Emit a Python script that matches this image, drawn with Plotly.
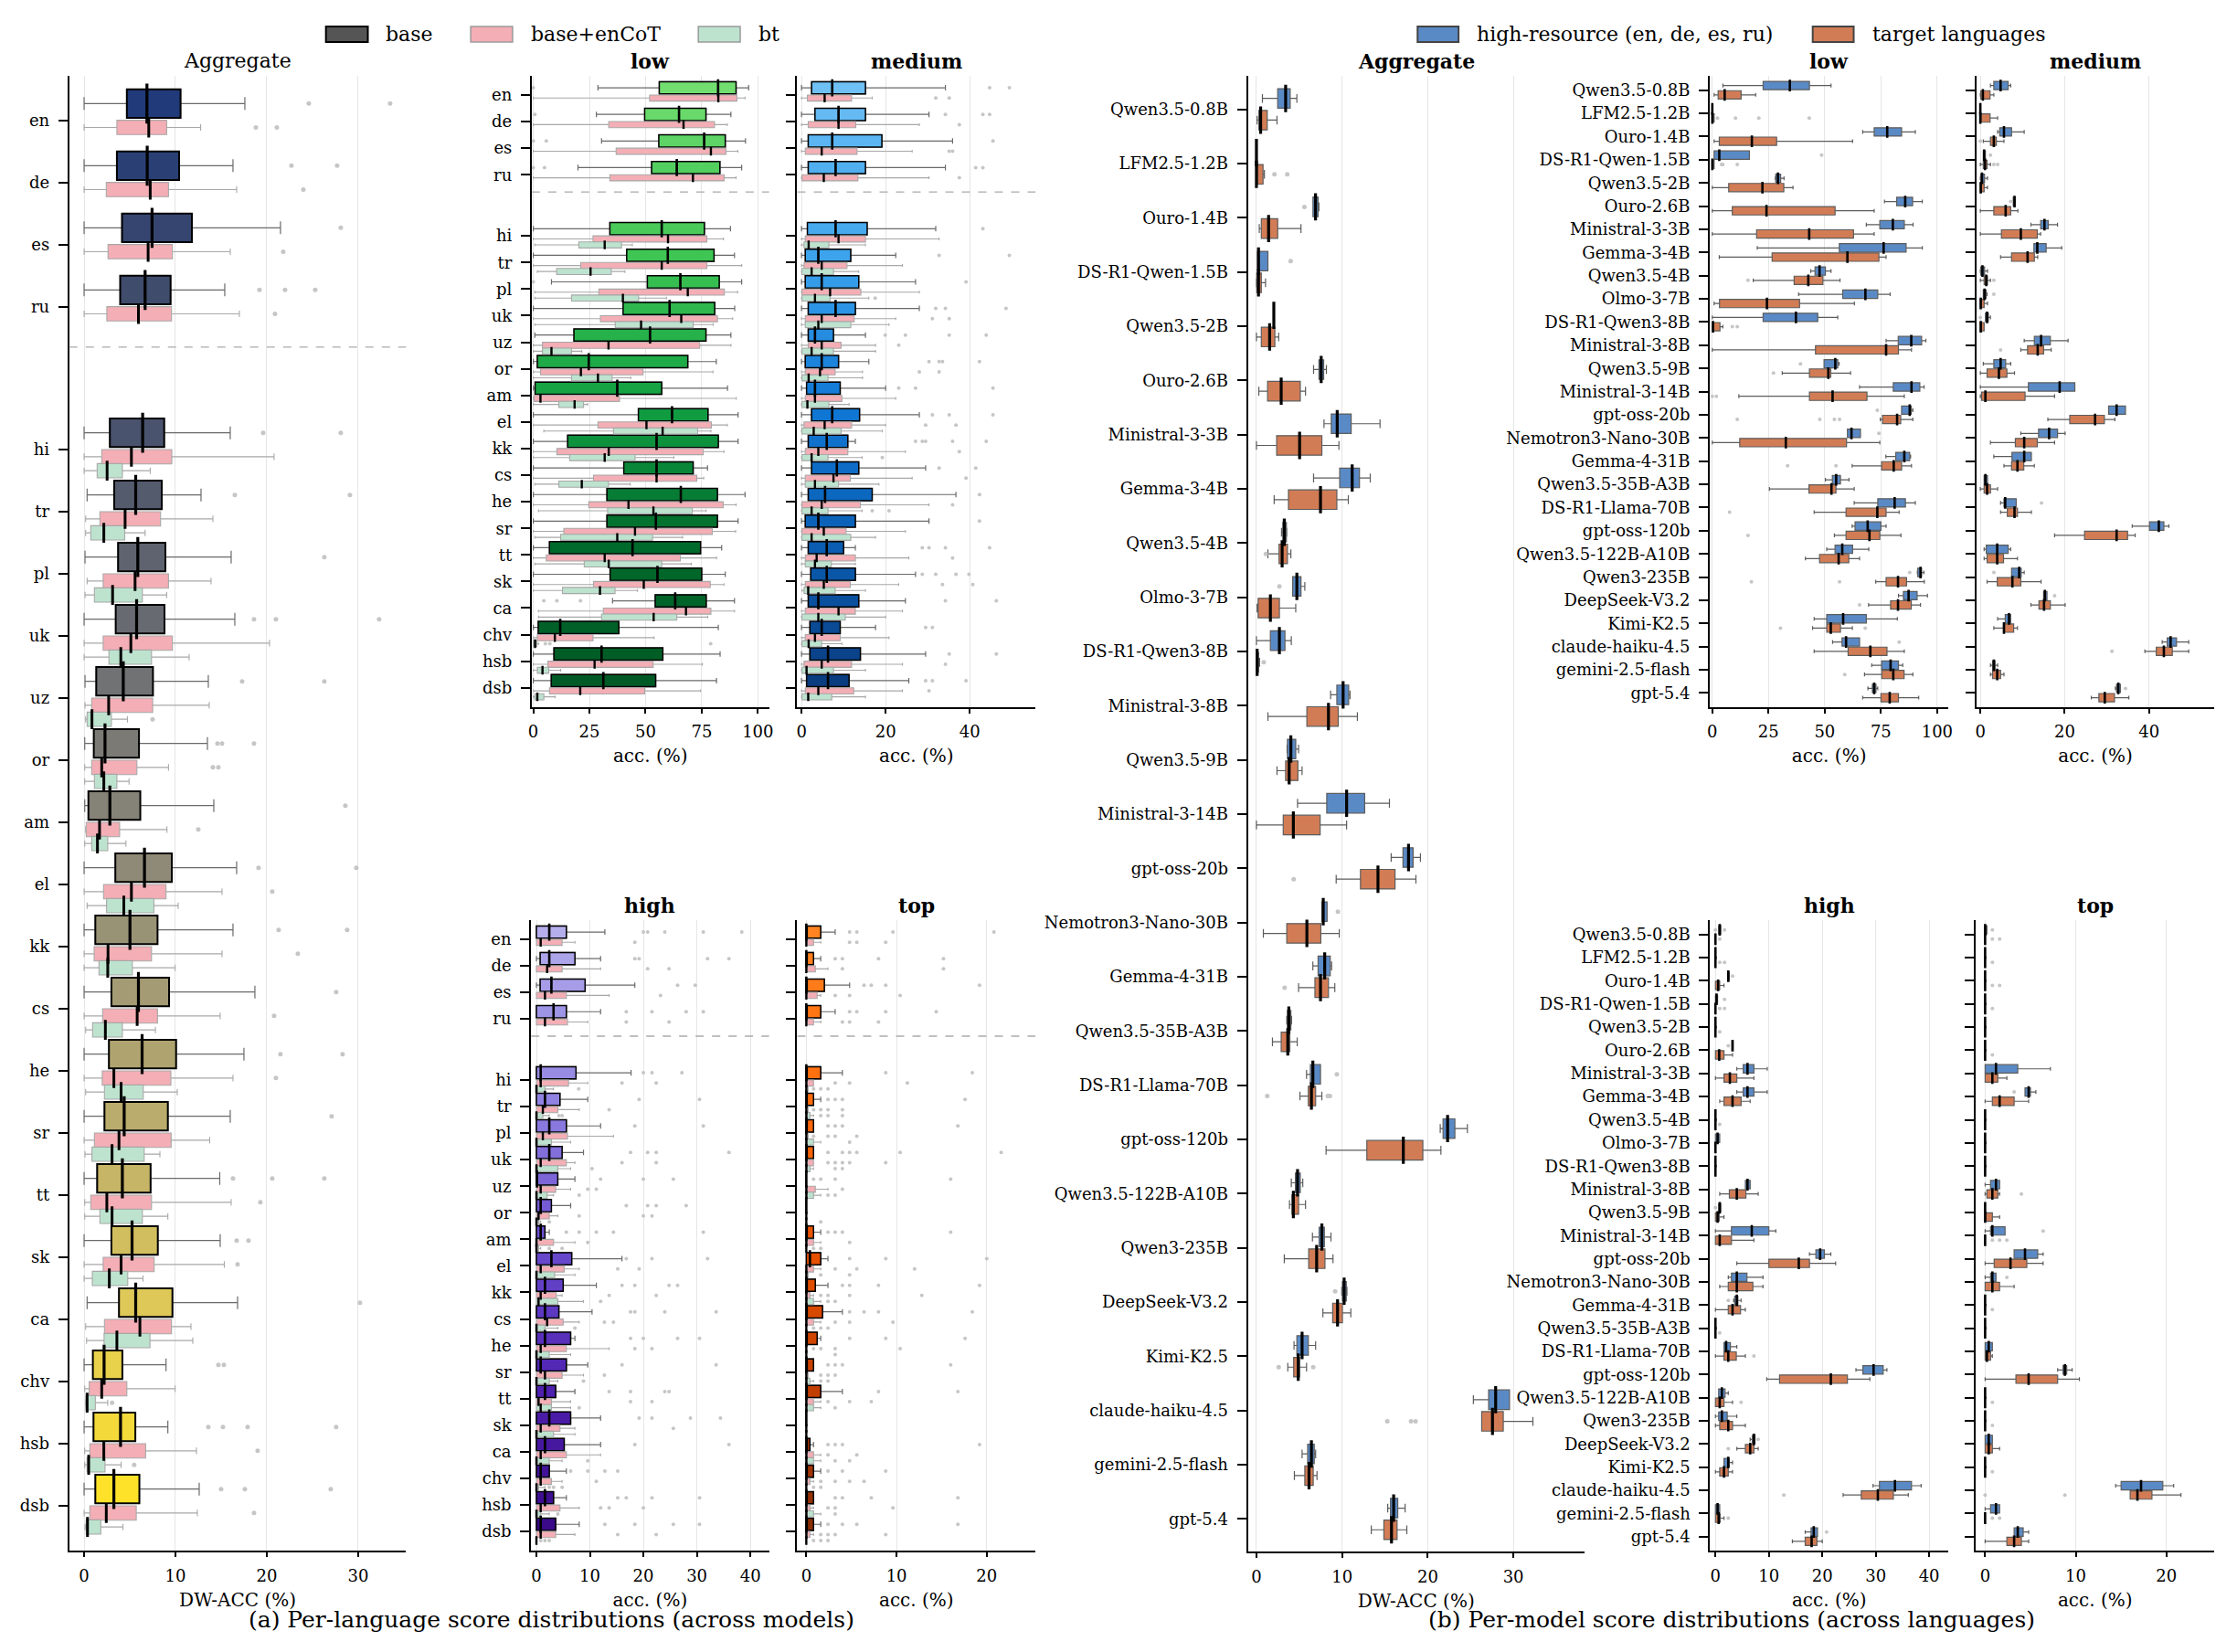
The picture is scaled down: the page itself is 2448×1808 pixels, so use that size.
import plotly.graph_objects as go

W, H = 2448, 1808
FONT = "DejaVu Serif"

LANGS = ["en", "de", "es", "ru", "hi", "tr", "pl", "uk", "uz", "or", "am", "el",
         "kk", "cs", "he", "sr", "tt", "sk", "ca", "chv", "hsb", "dsb"]
MODELS = ["Qwen3.5-0.8B", "LFM2.5-1.2B", "Ouro-1.4B", "DS-R1-Qwen-1.5B", "Qwen3.5-2B",
          "Ouro-2.6B", "Ministral-3-3B", "Gemma-3-4B", "Qwen3.5-4B", "Olmo-3-7B",
          "DS-R1-Qwen3-8B", "Ministral-3-8B", "Qwen3.5-9B", "Ministral-3-14B", "gpt-oss-20b",
          "Nemotron3-Nano-30B", "Gemma-4-31B", "Qwen3.5-35B-A3B", "DS-R1-Llama-70B",
          "gpt-oss-120b", "Qwen3.5-122B-A10B", "Qwen3-235B", "DeepSeek-V3.2", "Kimi-K2.5",
          "claude-haiku-4.5", "gemini-2.5-flash", "gpt-5.4"]

# each row: [lower whisker, q1, median, q3, upper whisker]
# ---------------- (a) Aggregate ----------------
LA_BASE = [[0, 4.68, 6.88, 10.56, 17.6], [0, 3.59, 6.91, 10.4, 16.3], [0, 4.15, 7.44, 11.8, 21.5],
           [0, 3.95, 6.68, 9.47, 15.4], [0, 2.82, 6.41, 8.77, 16.0], [0.33, 3.29, 5.65, 8.5, 12.8],
           [0.1, 3.72, 5.88, 8.9, 16.1], [0, 3.46, 5.75, 8.8, 16.5], [0.1, 1.33, 4.29, 7.54, 13.6],
           [0.07, 1.06, 2.29, 6.01, 13.5], [0.07, 0.47, 2.82, 6.15, 14.2], [0, 3.42, 6.61, 9.6, 16.7],
           [0, 1.23, 5.02, 8.04, 16.3], [0, 2.99, 5.95, 9.3, 18.7], [0, 2.72, 6.35, 10.07, 17.5],
           [0, 2.23, 4.39, 9.17, 16.0], [0, 1.43, 4.19, 7.28, 14.85], [0, 2.99, 5.25, 8.07, 14.9],
           [0.33, 3.82, 5.65, 9.67, 16.8], [0, 0.96, 2.19, 4.19, 8.97], [0, 1.03, 3.99, 5.61, 9.17],
           [0, 1.23, 3.26, 6.05, 12.6]]
LA_COT = [[0, 3.59, 7.08, 9.04, 12.76], [0, 2.43, 7.24, 9.24, 16.7], [0, 2.62, 7.01, 9.67, 16.0],
          [0, 2.49, 5.95, 9.57, 17.0], [0, 1.93, 5.18, 9.6, 20.8], [0.17, 1.73, 4.49, 8.37, 14.1],
          [0.33, 2.09, 5.58, 9.24, 13.9], [0, 2.09, 5.12, 9.67, 20.3], [0.1, 0.83, 2.69, 7.51, 13.7],
          [0.07, 0.83, 1.93, 5.78, 9.24], [0.17, 0.23, 1.69, 3.89, 9.07], [0, 2.13, 5.18, 8.97, 15.1],
          [0, 1.1, 2.62, 7.38, 15.1], [0, 2.03, 5.81, 8.04, 14.9], [0, 1.99, 3.26, 9.5, 16.3],
          [0, 1.13, 3.82, 9.53, 13.75], [0.07, 0.73, 2.49, 7.38, 16.1], [0, 2.09, 4.05, 7.67, 15.35],
          [0.17, 2.23, 6.11, 9.57, 11.7], [0.07, 0.56, 1.93, 4.68, 9.97], [0.07, 0.63, 2.16, 6.74, 12.3],
          [0, 0.63, 2.43, 5.71, 12.4]]
LA_BT = [None, None, None, None,
         [0, 1.43, 2.52, 4.19, 7.24], [0.17, 0.73, 2.16, 4.45, 6.68], [0.1, 1.13, 3.12, 6.38, 9.04],
         [0, 2.72, 4.02, 7.38, 11.5], [0.17, 0.33, 0.86, 2.99, 4.75], [0.07, 1.13, 2.16, 3.59, 4.92],
         [0.07, 0.83, 1.46, 2.59, 4.58], [0.33, 2.46, 4.35, 7.64, 10.3], [0, 1.63, 2.59, 5.28, 9.97],
         [0.17, 0.93, 2.33, 4.19, 7.81], [0.17, 2.23, 4.05, 6.48, 10.2], [0.1, 0.86, 3.06, 6.58, 8.3],
         [0.07, 1.73, 3.06, 6.38, 9.17], [0, 0.9, 2.76, 4.78, 6.45], [0.27, 2.19, 3.59, 7.21, 11.9],
         [0.17, 0.2, 0.33, 1.23, 2.59], [0.07, 0.33, 0.5, 2.29, 4.05], [0.1, 0.23, 0.37, 1.83, 4.25]]
LA_BASE_OUT = [("en", [24.6, 33.5]), ("de", [22.7, 27.7]), ("es", [28.1]), ("ru", [19.2, 22.0, 25.3]),
               ("hi", [19.6, 28.1]), ("tr", [16.5, 29.1]), ("pl", [26.3]), ("uk", [18.6, 21.0, 32.3]),
               ("uz", [17.3, 26.3]), ("or", [14.6, 15.1, 18.6]), ("am", [28.6]), ("el", [19.1, 29.8]),
               ("kk", [21.3, 28.8]), ("cs", [27.6]), ("he", [21.5, 28.3]), ("sr", [27.1]),
               ("tt", [16.3, 20.6, 26.3]), ("sk", [16.7, 18.0]), ("ca", [30.2]), ("chv", [14.7, 15.3]),
               ("hsb", [13.6, 15.2, 17.9, 27.6]), ("dsb", [15.0, 17.6, 27.0])]
LA_COT_OUT = [("en", [18.8, 21.1]), ("de", [24.0]), ("es", [21.8]), ("ru", [20.9]), ("or", [14.1, 14.7]),
              ("am", [12.5]), ("el", [20.6]), ("kk", [23.4]), ("cs", [20.8]), ("he", [21.0]),
              ("tt", [19.3]), ("sk", [16.8]), ("hsb", [19.0]), ("dsb", [18.6])]
LA_BT_OUT = [("uz", [7.5]), ("chv", [3.06]), ("hsb", [5.48])]

# ---------------- (a) low ----------------
LL_MAIN = [[28.8, 56.1, 82.3, 90.3, 95.9], [28.1, 49.6, 64.9, 76.9, 88.0], [30.4, 55.9, 76.1, 85.5, 94.5],
           [19.9, 52.7, 63.9, 83.1, 92.8], [0, 34.1, 57.2, 76.2, 87.8], [0, 41.6, 59.9, 80.5, 89.6],
           [8.1, 50.8, 65.5, 82.8, 92.8], [0, 40.0, 60.7, 80.8, 89.7], [0.7, 18.1, 52.0, 76.9, 88.0],
           [0, 1.8, 24.7, 68.8, 81.5], [0, 0.8, 37.4, 57.2, 86.5], [0, 46.8, 61.8, 77.8, 91.2],
           [0, 15.3, 54.9, 82.4, 91.2], [0, 40.3, 54.9, 71.2, 77.6], [0, 32.8, 65.7, 82.0, 94.3],
           [0, 32.8, 54.6, 82.0, 91.2], [0, 7.2, 44.2, 74.5, 83.9], [0, 34.2, 55.3, 75.0, 85.5],
           [35.3, 54.3, 63.2, 77.0, 89.6], [0, 2.2, 12.0, 38.1, 82.4], [0, 9.2, 30.4, 57.7, 83.2],
           [0, 8.0, 31.2, 54.5, 81.6]]
LL_COT = [[0, 51.8, 82.4, 90.7, 94.3], [0, 33.6, 66.9, 80.7, 86.4], [0, 36.9, 79.1, 85.8, 91.1],
          [0, 34.1, 71.1, 85.0, 90.3], [0, 26.6, 60.0, 77.3, 84.7], [0, 21.1, 57.2, 77.3, 92.8],
          [0.7, 29.2, 68.8, 85.1, 91.0], [0, 29.9, 65.9, 82.0, 88.8], [0, 4.1, 33.5, 74.1, 88.0],
          [0, 3.2, 21.2, 48.9, 80.0], [0, 0.3, 3.2, 38.4, 90.4], [0, 28.8, 50.4, 79.3, 86.4],
          [0, 10.5, 33.6, 75.7, 84.9], [0, 26.8, 54.9, 72.8, 75.9], [0, 24.7, 42.4, 84.6, 90.3],
          [0, 13.6, 45.3, 79.7, 90.1], [0, 5.8, 31.8, 65.5, 81.6], [0, 26.8, 49.2, 78.8, 84.9],
          [2.3, 31.2, 68.0, 79.1, 89.6], [0, 1.8, 9.6, 26.6, 53.8], [0, 6.5, 27.3, 53.4, 75.3],
          [0, 7.2, 20.9, 49.6, 74.5]]
LL_BT = [None, None, None, None,
         [0.7, 20.3, 31.8, 39.3, 44.1], [1.8, 10.4, 25.5, 34.7, 40.8], [0.7, 17.0, 39.9, 46.9, 59.3],
         [0.7, 36.5, 48.0, 71.2, 80.1], [0, 4.1, 8.1, 17.0, 21.6], [0, 17.0, 28.8, 35.1, 43.4],
         [0, 11.4, 18.4, 22.4, 24.2], [4.7, 35.7, 57.6, 73.2, 79.1], [0, 16.2, 31.8, 45.3, 62.6],
         [0.7, 11.4, 21.6, 33.5, 43.2], [2.3, 33.1, 53.5, 70.8, 76.9], [0.7, 12.2, 37.4, 53.1, 66.5],
         [0.7, 22.7, 33.6, 57.2, 70.4], [0, 13.0, 29.7, 36.4, 46.4], [2.3, 30.4, 53.6, 63.9, 77.7],
         [0, 0, 0.8, 1.6, 2.3], [0, 1.8, 4.1, 6.9, 12.2], [0, 0.7, 1.8, 4.7, 9.7]]
LL_MAIN_OUT = [("en", [0]), ("de", [0.7]), ("es", [0, 5.8]), ("ru", [0, 5.0]), ("pl", [0]),
               ("ca", [4.7, 10.5, 21.0])]
LL_COT_OUT = []
LL_BT_OUT = [("chv", [5.4, 7.4, 79.0])]

# ---------------- (a) medium ----------------
LM_MAIN = [[0, 2.4, 7.3, 15.2, 34.2], [0, 3.2, 8.8, 15.2, 30.3], [0, 1.6, 7.3, 19.1, 35.9],
           [0, 1.6, 8.1, 15.2, 34.2], [0, 1.4, 8.1, 15.6, 31.9], [0, 0.9, 4.0, 11.7, 22.4],
           [0, 0.9, 4.8, 13.6, 27.1], [0, 1.6, 8.1, 12.8, 28.0], [0, 1.6, 3.2, 7.6, 15.2],
           [0, 0.9, 4.8, 8.8, 16.0], [0, 1.2, 3.2, 9.2, 20.0], [0, 2.4, 7.3, 13.8, 28.0],
           [0, 1.6, 6.0, 11.0, 12.8], [0, 2.4, 8.4, 13.6, 29.5], [0, 1.6, 5.6, 16.8, 36.7],
           [0, 0.9, 4.0, 12.8, 30.3], [0, 1.6, 6.0, 10.0, 12.8], [0, 2.2, 6.0, 12.8, 27.1],
           [0, 1.6, 4.0, 13.6, 24.7], [0, 2.0, 4.8, 9.2, 17.6], [0, 2.0, 6.3, 14.0, 29.5],
           [0, 1.2, 6.3, 11.3, 25.5]]
LM_COT = [[0, 1.4, 5.5, 11.9, 16.8], [0, 1.6, 8.8, 12.9, 28.0], [0, 0.9, 4.8, 13.2, 26.3],
          [0, 0.1, 5.3, 13.4, 30.3], [0, 0.9, 8.8, 15.2, 32.7], [0, 0.6, 4.8, 10.8, 24.0],
          [0, 0.1, 6.8, 14.1, 28.0], [0, 0.9, 4.8, 12.5, 22.4], [0, 1.6, 4.8, 9.4, 17.6],
          [0, 0.9, 4.4, 8.0, 14.5], [0, 0.9, 3.2, 9.6, 22.4], [0, 0.6, 5.5, 11.9, 20.0],
          [0, 0.9, 4.0, 11.0, 24.7], [0, 0.9, 7.6, 11.6, 26.3], [0, 0.1, 4.8, 14.0, 30.3],
          [0, 0.1, 5.3, 10.6, 24.7], [0, 0.9, 3.6, 12.8, 25.5], [0, 0.9, 5.3, 11.6, 23.1],
          [0, 0.9, 8.8, 12.8, 24.0], [0, 0.9, 3.2, 9.2, 20.8], [0, 0.6, 4.8, 11.9, 24.0],
          [0, 0.9, 4.0, 12.4, 24.0]]
LM_BT = [None, None, None, None,
         [0, 0.6, 1.7, 6.5, 15.2], [0, 0.1, 2.4, 7.6, 13.6], [0, 0.1, 3.2, 6.8, 16.0],
         [0, 0.9, 4.0, 11.7, 20.8], [0, 0.1, 2.4, 7.6, 17.6], [0, 0.1, 1.7, 6.3, 14.5],
         [0, 0.1, 1.4, 6.5, 11.3], [0, 0.1, 2.9, 9.4, 19.2], [0, 0.1, 2.4, 6.3, 14.4],
         [0, 0.9, 3.2, 8.8, 18.4], [0, 0.1, 2.4, 6.3, 14.4], [0, 0.1, 2.4, 11.7, 17.6],
         [0, 0.9, 3.2, 7.1, 12.8], [0.1, 0.6, 1.6, 8.0, 15.2], [0, 0.1, 4.0, 10.4, 20.0],
         [0, 0.1, 1.7, 4.8, 9.6], [0, 0.1, 1.2, 7.6, 15.2], [0, 0.1, 1.6, 7.2, 15.2]]
LM_MAIN_OUT = [("en", [44.7, 49.4]), ("de", [34.2, 43.1, 44.7]), ("es", [45.5]), ("ru", [41.4, 43.1]),
               ("hi", [43.1]), ("tr", [32.7, 49.4]), ("pl", [39.1]), ("uk", [31.9, 34.2, 48.6]),
               ("uz", [19.9, 24.7, 35.1, 43.9]), ("or", [30.3, 32.7, 33.5, 42.3]), ("am", [23.1, 27.1, 45.5]),
               ("el", [31.1, 35.1, 45.5]), ("kk", [27.1, 28.7, 29.5, 35.9, 43.9]), ("cs", [32.7, 41.4]),
               ("he", [42.3]), ("sr", [42.3]), ("tt", [28.7, 30.3, 34.2, 44.7]), ("sk", [28.7, 31.9, 36.7, 39.8]),
               ("ca", [34.2, 46.3]), ("chv", [29.5, 31.1]), ("hsb", [35.1, 46.3]), ("dsb", [29.5, 31.1, 39.1])]
LM_COT_OUT = [("en", [31.9, 35.1]), ("de", [37.5]), ("es", [35.1, 35.9]), ("ru", [37.5]), ("uk", [31.1, 35.1]),
              ("uz", [23.1]), ("or", [28.0, 32.7]), ("el", [29.5, 36.7]), ("kk", [37.5]), ("cs", [39.1]),
              ("he", [35.9]), ("tt", [35.9]), ("sk", [33.5, 40.7]), ("hsb", [34.2]), ("dsb", [30.3])]
LM_BT_OUT = [("pl", [17.5]), ("kk", [19.2]), ("he", [16.8, 20.8])]

# ---------------- (a) high ----------------
LH_MAIN = [[0, 0, 2.4, 5.6, 12.8], [0, 0.7, 2.4, 7.2, 12.0], [0, 0.7, 2.8, 9.1, 18.4], [0, 0, 3.2, 5.6, 12.0],
           [0, 0, 0.8, 7.4, 17.7], [0, 0, 1.6, 4.4, 9.6], [0, 0, 2.4, 5.6, 12.0], [0, 0, 2.4, 4.8, 8.8],
           [0, 0, 0.1, 4.0, 7.2], [0, 0, 0.8, 2.8, 6.4], [0, 0, 0.8, 1.6, 2.4], [0, 0, 2.8, 6.6, 16.0],
           [0, 0, 1.6, 5.0, 11.2], [0, 0, 1.6, 4.2, 10.4], [0, 0, 1.6, 6.4, 7.2], [0, 0, 0.8, 5.6, 9.6],
           [0, 0, 1.6, 3.6, 7.2], [0, 0, 2.4, 6.4, 12.0], [0, 0, 1.6, 5.2, 12.0], [0, 0, 0.8, 2.4, 5.6],
           [0, 0, 1.6, 3.2, 5.6], [0, 0, 0.8, 3.6, 8.0]]
LH_COT = [[0, 0, 0.8, 4.8, 7.2], [0, 0, 2.0, 4.8, 12.0], [0, 0, 1.6, 5.6, 13.6], [0, 0, 1.6, 5.8, 9.6],
          [0, 0, 0.8, 6.0, 9.6], [0, 0, 1.2, 4.0, 8.0], [0, 0, 1.2, 5.8, 14.4], [0, 0, 0.8, 5.6, 7.2],
          [0, 0, 0.8, 3.6, 6.4], [0, 0, 0.4, 2.4, 4.0], [0, 0, 0, 3.2, 7.2], [0, 0, 0.8, 5.2, 8.0],
          [0, 0, 0.8, 3.7, 4.8], [0, 0, 2.0, 5.0, 8.0], [0, 0, 0.8, 5.6, 13.6], [0, 0, 1.6, 4.8, 8.8],
          [0, 0, 0.4, 2.8, 6.4], [0, 0, 0.8, 4.4, 7.2], [0, 0, 0.8, 5.6, 12.0], [0, 0, 0.8, 2.8, 4.8],
          [0, 0, 0.8, 4.4, 8.0], [0, 0, 0.8, 3.6, 7.2]]
LH_BT = [None, None, None, None,
         [0, 0, 0, 1.6, 3.2], [0, 0, 0, 1.2, 2.4], [0, 0, 0, 2.8, 6.4], [0, 0, 0, 4.0, 6.4],
         [0, 0, 0, 2.0, 3.2], [0, 0, 0, 0.4, 0.8], [0, 0, 0, 0.4, 0.8], [0, 0, 0, 3.4, 7.2],
         [0, 0, 0.4, 4.0, 8.8], [0, 0, 0, 1.6, 4.0], [0, 0, 0, 2.4, 6.4], [0, 0, 0, 2.4, 4.0],
         [0, 0, 0.8, 2.8, 6.4], [0, 0, 0, 3.2, 7.2], [0, 0, 0, 2.4, 4.8], [0, 0, 0, 0.4, 1.6],
         [0, 0, 0, 0.8, 2.4], [0, 0, 0, 0, 0]]
LH_MAIN_OUT = [("en", [20.0, 20.8, 24.0, 31.2, 38.4]), ("de", [18.4, 19.2, 32.0, 36.0]), ("es", [26.4, 29.7]),
               ("ru", [16.8, 21.6, 28.0, 31.2]), ("hi", [20.0, 21.6, 27.2]), ("tr", [19.2, 30.5]),
               ("pl", [18.4, 31.2]), ("uk", [17.6, 20.8, 22.4, 36.0]), ("uz", [12.0, 20.0, 25.6]),
               ("or", [16.8, 20.8, 22.4, 28.0]), ("am", [5.6, 8.0, 11.2, 14.4, 31.2]), ("el", [16.8, 21.6, 32.0]),
               ("kk", [16.0, 18.4, 24.8, 26.4]), ("cs", [17.6, 18.4, 24.0, 33.6]), ("he", [17.6, 20.0, 26.4, 30.5]),
               ("sr", [16.0, 33.6]), ("tt", [13.6, 17.6, 24.0, 24.8]), ("sk", [19.2, 21.6, 28.8, 34.4]),
               ("ca", [18.4, 36.0]), ("chv", [6.4, 9.6, 12.8, 15.2]), ("hsb", [15.2, 16.8, 21.6, 30.5]),
               ("dsb", [12.8, 18.4, 25.6, 30.5])]
LH_COT_OUT = [("en", [18.4]), ("de", [20.8, 24.8]), ("es", [23.2]), ("ru", [16.8, 24.8]), ("hi", [16.0, 22.4]),
              ("tr", [13.6]), ("uk", [16.0, 22.4]), ("uz", [9.6, 11.2]), ("or", [8.0, 20.0, 21.6]), ("am", [9.6]),
              ("el", [15.2, 19.2]), ("kk", [13.6, 22.4]), ("cs", [12.7, 14.4]), ("he", [18.4, 21.6]),
              ("sr", [12.7]), ("tt", [17.6, 21.6]), ("sk", [25.6]), ("chv", [11.2]), ("hsb", [12.0, 13.6, 20.0]),
              ("dsb", [15.2, 22.4])]
LH_BT_OUT = [("hi", [7.9]), ("tr", [4.2, 4.8]), ("uk", [10.4]), ("uz", [8.0]), ("or", [2.4]), ("am", [2.4, 4.8]),
             ("kk", [12.0]), ("cs", [7.2]), ("sr", [8.8]), ("tt", [8.0]), ("ca", [9.6]), ("chv", [2.4, 3.2, 4.8]),
             ("hsb", [4.0]), ("dsb", [0.8, 1.6, 2.4])]

# ---------------- (a) top ----------------
LT_MAIN = [[0, 0, 0, 1.6, 3.2], [0, 0, 0, 0.8, 1.6], [0, 0, 0, 2.0, 4.8], [0, 0, 0, 1.6, 3.2],
           [0, 0, 0, 1.6, 4.0], [0, 0, 0, 0.8, 1.6], [0, 0, 0, 0.8, 0.8], [0, 0, 0, 0.8, 0.8],
           [0, 0, 0, 0, 0], [0, 0, 0, 0, 0], [0, 0, 0, 0.8, 1.6], [0, 0, 0.4, 1.6, 2.4],
           [0, 0, 0, 1.0, 2.4], [0, 0, 0, 1.8, 4.0], [0, 0, 0, 1.2, 1.6], [0, 0, 0, 0.8, 0.8],
           [0, 0, 0, 1.6, 4.0], [0, 0, 0, 0, 0], [0, 0, 0, 0.4, 0.8], [0, 0, 0, 0.8, 1.6],
           [0, 0, 0, 0.8, 0.8], [0, 0, 0, 0.8, 1.6]]
LT_COT = [[0, 0, 0, 0.8, 1.6], [0, 0, 0, 1.0, 2.4], [0, 0, 0, 1.2, 1.6], [0, 0, 0, 0.8, 1.6],
          [0, 0, 0, 0.8, 0.8], [0, 0, 0, 0.2, 0.2], [0, 0, 0, 0.2, 0.2], [0, 0, 0, 0.8, 0.8],
          [0, 0, 0, 1.0, 2.4], [0, 0, 0, 0, 0], [0, 0, 0, 0.8, 1.6], [0, 0, 0, 0.8, 1.6],
          [0, 0, 0, 0.4, 0.8], [0, 0, 0, 0.8, 1.6], [0, 0, 0, 0, 0], [0, 0, 0, 0.2, 0.2],
          [0, 0, 0, 0.8, 1.6], [0, 0, 0, 0, 0], [0, 0, 0, 0.8, 1.6], [0, 0, 0, 0.4, 0.8],
          [0, 0, 0, 0.4, 0.8], [0, 0, 0, 0.4, 0.8]]
LT_BT = [None, None, None, None,
         [0, 0, 0, 0.2, 0.2], [0, 0, 0, 0.4, 0.8], [0, 0, 0, 0.8, 1.6], [0, 0, 0, 0.4, 0.8],
         [0, 0, 0, 0.8, 1.6], [0, 0, 0, 0, 0], [0, 0, 0, 0, 0], [0, 0, 0, 0.2, 0.2],
         [0, 0, 0, 0.8, 1.6], [0, 0, 0, 0, 0], [0, 0, 0, 0, 0], [0, 0, 0, 0.4, 0.8],
         [0, 0, 0, 0.8, 1.6], [0, 0, 0, 0, 0], [0, 0, 0, 0.8, 1.6], [0, 0, 0, 0, 0],
         [0, 0, 0, 0.8, 1.6], [0, 0, 0, 0, 0]]
LT_MAIN_OUT = [("en", [4.8, 5.6, 9.6, 20.8]), ("de", [3.2, 4.0, 8.0, 15.2]), ("es", [6.4, 7.2, 8.8, 19.2]),
               ("ru", [4.8, 5.6, 8.8, 14.4]), ("hi", [8.8, 18.4]), ("tr", [2.4, 3.2, 4.0, 17.6]),
               ("pl", [2.4, 3.2, 4.0, 16.8]), ("uk", [2.4, 4.0, 4.8, 5.6, 10.4, 21.6]), ("uz", [0.8, 1.6, 3.2, 16.0]),
               ("am", [2.4, 3.2, 4.0, 16.0]), ("el", [4.8, 8.8, 20.0]), ("kk", [4.0, 4.8, 8.0, 19.2]),
               ("cs", [4.8, 6.4, 8.0, 18.4]), ("he", [4.8, 8.8, 17.6]), ("sr", [2.4, 3.2, 4.0, 16.0]),
               ("tt", [8.0, 16.8]), ("ca", [2.4, 3.2, 4.0, 19.2]), ("chv", [2.4, 4.0, 8.8]),
               ("hsb", [3.2, 4.0, 7.2, 16.8]), ("dsb", [2.4, 4.0, 5.6, 16.8])]
LT_COT_OUT = [("en", [4.8, 5.6, 8.8]), ("de", [4.0, 15.2]), ("es", [3.2, 4.8, 10.4]), ("ru", [4.0, 4.8, 8.0]),
              ("hi", [3.2, 4.8, 11.2]), ("tr", [0.8, 1.6, 2.4, 4.0]), ("pl", [0.8, 2.4, 3.2, 5.6]),
              ("uk", [2.4, 3.2, 4.0, 4.8, 8.8]), ("uz", [4.0]), ("am", [4.8]), ("el", [3.2, 5.6, 12.0]),
              ("kk", [1.6, 2.4, 4.8, 12.8]), ("cs", [3.2, 4.8, 9.6]), ("he", [0.8, 1.6, 3.2, 10.4]),
              ("sr", [1.6, 2.4, 3.2]), ("tt", [2.4, 4.8, 7.2]), ("ca", [2.4, 5.6]), ("chv", [1.6, 3.2, 4.8, 6.4]),
              ("hsb", [2.4, 3.2, 9.6]), ("dsb", [1.6, 2.4, 3.2, 8.8])]
LT_BT_OUT = [("hi", [0.8, 1.6, 2.4]), ("tr", [1.6, 2.4, 4.0]), ("pl", [4.8]), ("uk", [3.2, 4.0]), ("uz", [2.4, 3.2]),
             ("or", [1.6]), ("am", [0.8, 1.6]), ("el", [1.6, 4.8]), ("kk", [2.4, 3.2]), ("cs", [0.8, 1.6, 2.4]),
             ("he", [3.2]), ("sr", [1.6, 2.4]), ("tt", [3.2]), ("ca", [3.2, 4.8]), ("chv", [0.8, 1.6]),
             ("hsb", [3.2]), ("dsb", [0.8, 1.6, 2.4])]

# ---------------- (b) Aggregate ----------------
RA_HR = [[0.7, 2.48, 3.41, 3.94, 4.72], [0, 0, 0, 0, 0], [6.6, 6.6, 6.9, 7.2, 7.3], [0.12, 0.12, 0.24, 1.34, 1.34],
         [2.03, 2.03, 2.03, 2.03, 2.03], [6.67, 7.3, 7.56, 7.85, 8.17], [7.89, 8.74, 9.43, 11.06, 14.43],
         [6.67, 9.72, 11.18, 12.03, 13.29], [2.93, 3.09, 3.25, 3.5, 3.54], [4.23, 4.23, 4.72, 5.2, 5.65],
         [0, 1.63, 2.68, 3.33, 4.07], [8.66, 9.39, 10.12, 10.77, 10.93], [3.58, 3.62, 4.02, 4.59, 4.92],
         [4.8, 8.21, 10.53, 12.64, 15.53], [15.73, 17.11, 17.76, 18.29, 19.15], [7.64, 7.64, 7.8, 8.25, 8.25],
         [6.59, 7.2, 7.97, 8.62, 8.78], [3.54, 3.62, 3.78, 4.02, 4.1], [5.85, 6.3, 6.59, 7.48, 7.48],
         [21.46, 21.79, 22.32, 23.17, 24.63], [4.07, 4.55, 4.8, 5.12, 5.41], [6.54, 7.32, 7.64, 7.93, 8.7],
         [9.96, 10.04, 10.24, 10.49, 10.57], [4.39, 4.72, 5.33, 6.06, 6.91], [25.33, 27.11, 27.93, 29.55, 29.55],
         [5.33, 5.98, 6.42, 6.75, 6.91], [15.33, 15.65, 16.02, 16.5, 17.36]]
RA_TG = [[0.08, 0.28, 0.49, 1.26, 2.4], [0, 0, 0, 0.77, 0.93], [0.33, 0.57, 1.42, 2.48, 5.2], [0, 0.04, 0.24, 0.57, 1.06],
         [0, 0.57, 1.54, 2.15, 2.6], [0.28, 1.3, 2.89, 5.12, 5.73], [0, 2.36, 5.04, 7.64, 9.63],
         [2.07, 3.74, 7.48, 9.39, 10.73], [1.34, 2.64, 3.0, 3.62, 4.02], [0.08, 0.2, 1.63, 2.68, 4.59],
         [0, 0, 0.08, 0.24, 0.37], [1.34, 5.89, 8.41, 9.55, 11.79], [2.4, 3.41, 3.82, 4.84, 5.33],
         [0, 3.13, 4.31, 7.44, 10.53], [9.31, 12.15, 14.19, 16.18, 18.62], [0.81, 3.54, 5.89, 7.52, 9.67],
         [4.92, 6.83, 7.48, 8.41, 9.15], [1.87, 2.89, 3.66, 3.9, 4.76], [5.08, 6.06, 6.42, 6.91, 7.64],
         [8.13, 12.89, 17.15, 19.43, 21.54], [3.86, 4.15, 4.31, 4.92, 5.73], [3.25, 6.1, 7.03, 8.0, 8.94],
         [7.76, 8.9, 9.47, 10.04, 11.02], [3.66, 4.35, 4.88, 5.04, 5.85], [26.3, 26.3, 27.56, 28.82, 32.28],
         [4.43, 5.65, 6.14, 6.63, 7.07], [13.41, 14.88, 15.77, 16.42, 17.56]]
RA_HR_OUT = [("Ouro-1.4B", [5.6]), ("DS-R1-Qwen-1.5B", [4.0]), ("Olmo-3-7B", [2.68]), ("Nemotron3-Nano-30B", [9.51]),
             ("DS-R1-Llama-70B", [9.39]), ("DeepSeek-V3.2", [9.19])]
RA_TG_OUT = [("LFM2.5-1.2B", [2.1, 3.6]), ("Qwen3.5-4B", [1.1]), ("DS-R1-Qwen3-8B", [0.85]), ("gpt-oss-20b", [4.35]),
             ("Gemma-4-31B", [3.29]), ("DS-R1-Llama-70B", [1.26, 8.33, 8.58]), ("Kimi-K2.5", [2.6, 6.63]),
             ("claude-haiku-4.5", [15.28, 18.05, 18.58])]

# ---------------- (b) low ----------------
RL_HR = [[4.7, 22.6, 34.5, 43.2, 52.8], [0, 0, 0, 0, 0], [66.9, 72.0, 77.8, 84.2, 90.3], [0.8, 0.8, 3.1, 16.5, 16.5],
         [28.0, 28.2, 29.2, 30.4, 31.9], [76.6, 82.0, 85.8, 89.1, 93.4], [68.5, 74.5, 80.3, 85.4, 89.3],
         [20.0, 56.5, 76.2, 86.2, 93.4], [43.8, 45.7, 47.7, 50.3, 52.8], [38.4, 58.0, 68.1, 73.6, 79.1],
         [0, 22.6, 37.2, 46.9, 55.8], [77.3, 82.7, 88.5, 93.1, 95.0], [49.7, 49.7, 54.7, 55.8, 56.4],
         [65.5, 80.5, 88.6, 92.3, 94.2], [84.2, 84.2, 87.8, 88.5, 89.2], [60.1, 60.1, 61.9, 65.9, 65.9],
         [77.2, 81.6, 85.4, 87.8, 88.2], [50.3, 53.4, 55.1, 57.0, 60.8], [63.1, 73.6, 81.1, 85.9, 90.3],
         [62.2, 63.5, 69.1, 75.0, 77.3], [50.9, 54.6, 57.8, 62.4, 69.6], [91.2, 91.4, 92.6, 93.1, 94.1],
         [82.8, 85.0, 87.3, 91.1, 95.7], [45.3, 50.9, 58.2, 68.5, 82.3], [53.5, 57.7, 59.5, 65.5, 65.5],
         [70.9, 75.3, 79.3, 82.8, 84.7], [69.2, 71.2, 72.0, 72.8, 73.6]]
RL_TG = [[0.8, 2.6, 5.5, 12.8, 19.3], [0, 0, 0, 0.8, 0.8], [0.8, 3.1, 17.6, 28.6, 62.4], [0, 0, 0, 0.8, 0.8],
         [0, 7.3, 22.3, 31.8, 35.9], [0, 8.9, 24.1, 54.6, 72.0], [0, 19.7, 43.1, 62.8, 72.0],
         [3.1, 26.6, 60.1, 74.1, 77.3], [18.2, 36.4, 42.7, 49.2, 56.8], [0.8, 3.2, 24.3, 38.8, 63.2],
         [0, 0, 0.3, 3.4, 4.7], [0, 45.9, 77.3, 82.8, 88.6], [31.1, 43.2, 51.6, 52.7, 61.5],
         [11.8, 43.2, 53.5, 68.8, 85.4], [74.7, 75.7, 82.2, 83.8, 89.2], [0, 12.2, 32.7, 59.7, 74.5],
         [62.2, 75.3, 80.7, 84.2, 88.6], [25.4, 43.0, 53.0, 55.0, 63.1], [45.3, 59.5, 73.4, 77.3, 83.1],
         [54.3, 59.5, 69.9, 74.5, 83.9], [41.4, 47.7, 56.2, 60.7, 65.5], [72.7, 77.3, 82.6, 86.4, 94.3],
         [69.5, 79.3, 82.6, 88.5, 92.6], [44.6, 50.9, 52.7, 57.0, 62.3], [45.3, 60.4, 70.3, 77.7, 85.4],
         [67.7, 75.4, 80.5, 85.3, 89.2], [66.9, 75.0, 78.9, 82.8, 91.8]]
RL_HR_OUT = [("DS-R1-Qwen-1.5B", [48.6]), ("Qwen3.5-9B", [39.2]), ("gpt-oss-20b", [73.4]),
             ("Nemotron3-Nano-30B", [74.1]), ("Qwen3-235B", [87.8]), ("claude-haiku-4.5", [83.1])]
RL_TG_OUT = [("LFM2.5-1.2B", [2.3, 10.3, 20.7, 43.1]), ("DS-R1-Qwen-1.5B", [4.1, 4.7, 11.1]), ("Qwen3.5-4B", [15.9]),
             ("DS-R1-Qwen3-8B", [8.9, 11.1]), ("Qwen3.5-9B", [27.2]), ("Ministral-3-14B", [0, 1.8]),
             ("gpt-oss-20b", [11.1, 47.8, 54.3, 56.6]), ("Gemma-4-31B", [33.5, 55.0]), ("DS-R1-Llama-70B", [7.7]),
             ("gpt-oss-120b", [15.9]), ("Qwen3-235B", [17.4, 56.6]), ("DeepSeek-V3.2", [65.5]),
             ("Kimi-K2.5", [30.3, 68.0]), ("gemini-2.5-flash", [58.9])]

# ---------------- (b) medium ----------------
RM_HR = [[2.4, 3.2, 4.8, 6.6, 7.2], [0, 0, 0, 0, 0], [4.1, 4.6, 5.6, 7.4, 10.4], [0.7, 0.7, 0.9, 1.2, 1.2],
         [0, 0.1, 0.4, 1.0, 1.7], [7.8, 7.8, 8.1, 8.3, 8.3], [12.0, 14.3, 15.2, 16.1, 18.3],
         [12.7, 12.7, 13.5, 15.6, 19.3], [0, 0.1, 0.5, 1.0, 1.7], [0.7, 0.7, 1.0, 1.4, 1.6],
         [1.2, 1.2, 1.6, 1.9, 2.4], [10.4, 12.8, 14.4, 16.6, 20.8], [0.7, 3.2, 4.8, 6.0, 7.2],
         [0, 11.4, 18.8, 22.4, 22.4], [30.4, 30.4, 32.3, 34.4, 34.4], [9.6, 13.8, 16.3, 18.3, 20.1],
         [3.2, 7.5, 10.4, 12.1, 12.1], [0.9, 0.9, 1.2, 1.7, 1.7], [4.8, 5.6, 5.9, 8.5, 8.5],
         [36.0, 40.1, 42.3, 43.5, 44.7], [0.9, 1.4, 4.0, 6.6, 7.2], [7.4, 7.4, 9.2, 9.7, 10.4],
         [15.0, 15.0, 15.3, 15.8, 15.8], [4.1, 5.9, 6.8, 7.2, 7.2], [43.1, 44.3, 45.1, 46.5, 49.4],
         [2.4, 2.9, 3.2, 3.5, 4.1], [32.0, 32.3, 32.7, 33.2, 33.2]]
RM_TG = [[0, 0.1, 0.6, 2.3, 3.2], [0, 0, 0, 2.3, 4.1], [0.7, 2.4, 3.2, 3.8, 5.6], [0, 0.7, 1.1, 1.6, 2.4],
         [0, 0, 0.1, 0.9, 1.7], [0, 3.2, 6.0, 7.2, 8.9], [0, 5.0, 9.6, 13.5, 14.3], [4.8, 7.4, 11.2, 12.8, 13.6],
         [0, 0.9, 1.4, 1.7, 2.4], [0, 0, 0.1, 0.9, 1.7], [0, 0, 0.1, 0.9, 0.9], [9.6, 11.2, 13.6, 15.0, 16.8],
         [0, 1.6, 4.4, 6.3, 8.1], [0, 0.3, 1.2, 10.6, 17.6], [16.0, 21.2, 27.2, 29.4, 31.9],
         [2.4, 8.3, 10.4, 13.5, 17.6], [5.6, 7.4, 8.8, 10.3, 12.8], [0, 0.9, 1.6, 2.4, 4.1],
         [4.8, 6.4, 8.1, 8.8, 12.1], [17.6, 24.7, 32.3, 34.9, 36.7], [0.9, 1.6, 4.0, 5.5, 8.8],
         [1.6, 4.0, 7.6, 9.6, 14.4], [12.0, 13.9, 15.1, 16.6, 20.1], [3.2, 5.5, 5.6, 7.9, 8.8],
         [39.0, 41.7, 43.5, 45.5, 49.4], [2.4, 2.9, 4.0, 4.8, 5.6], [26.3, 28.1, 29.5, 31.8, 35.2]]
RM_HR_OUT = [("DS-R1-Qwen-1.5B", [2.4]), ("Ouro-2.6B", [7.2]), ("Olmo-3-7B", [3.2]), ("DS-R1-Qwen3-8B", [0]),
             ("DS-R1-Llama-70B", [14.5]), ("Qwen3-235B", [3.2]), ("DeepSeek-V3.2", [17.6]), ("gpt-5.4", [34.4])]
RM_TG_OUT = [("Ouro-1.4B", [0]), ("DS-R1-Qwen-1.5B", [3.2, 4.1]), ("Qwen3.5-4B", [3.2]), ("Ministral-3-8B", [4.8]),
             ("claude-haiku-4.5", [31.2])]

# ---------------- (b) high ----------------
RH_HR = [[0.6, 0.6, 0.8, 1.0, 1.0], [0, 0, 0, 0, 0], [2.3, 2.3, 2.4, 2.6, 2.6], [0, 0, 0.2, 0.4, 0.4],
         [0, 0, 0, 0, 0], [3.1, 3.1, 3.2, 3.3, 3.3], [4.0, 5.2, 6.0, 7.2, 9.7], [4.0, 5.2, 6.0, 7.2, 9.7],
         [0, 0, 0, 0, 0], [0, 0, 0.4, 0.8, 0.8], [0, 0, 0, 0, 0], [5.6, 5.6, 6.0, 6.5, 6.5],
         [0.6, 0.6, 0.8, 1.0, 1.0], [0, 3.0, 6.8, 10.0, 11.3], [17.6, 18.8, 19.6, 20.4, 21.6],
         [2.4, 3.0, 4.0, 5.9, 8.9], [3.4, 3.6, 4.0, 4.2, 4.8], [0, 0, 0, 0, 0], [1.6, 1.6, 2.0, 2.8, 4.0],
         [26.3, 27.6, 29.6, 31.4, 32.1], [0.6, 0.6, 1.2, 1.8, 2.4], [0, 0.6, 1.2, 2.2, 4.0],
         [6.5, 6.9, 7.2, 7.4, 7.4], [1.6, 1.6, 2.4, 2.6, 3.2], [29.5, 30.7, 33.6, 36.7, 38.5],
         [0, 0, 0.4, 0.8, 0.8], [16.8, 17.9, 18.4, 19.1, 19.1]]
RH_TG = [[0, 0, 0, 0, 0], [0, 0, 0, 0, 0], [0, 0, 0.5, 0.8, 1.6], [0, 0, 0, 0, 0], [0, 0, 0, 0, 0],
         [0, 0, 0.7, 1.6, 3.2], [0, 1.6, 2.7, 4.0, 7.2], [0.8, 1.6, 3.2, 4.8, 6.5], [0, 0, 0, 0, 0],
         [0, 0, 0, 0, 0], [0, 0, 0, 0, 0], [0.8, 2.6, 4.0, 5.7, 8.0], [0, 0, 0.4, 0.7, 1.6],
         [0, 0, 0.8, 3.0, 7.2], [4.0, 10.0, 15.6, 17.6, 22.5], [0.8, 2.4, 4.0, 7.0, 8.9],
         [0, 2.4, 3.2, 4.7, 5.6], [0, 0, 0, 0, 0], [0, 1.6, 2.4, 3.9, 5.6], [9.6, 12.0, 21.6, 24.7, 28.9],
         [0, 0, 0.8, 1.6, 3.2], [0, 0.8, 2.4, 3.2, 5.6], [4.0, 5.6, 6.5, 7.2, 8.0], [0, 0.8, 1.6, 2.4, 3.2],
         [23.9, 27.3, 30.4, 33.3, 36.1], [0, 0, 0.6, 0.9, 1.6], [14.4, 16.8, 18.0, 19.0, 20.0]]
RH_HR_OUT = [("Qwen3.5-0.8B", [0, 1.7]), ("Ouro-1.4B", [3.2]), ("DS-R1-Qwen-1.5B", [1.7]), ("Ouro-2.6B", [2.4]),
             ("Qwen3.5-9B", [0]), ("Gemma-4-31B", [2.4]), ("DeepSeek-V3.2", [8.0]), ("gpt-5.4", [20.8])]
RH_TG_OUT = [("Qwen3.5-0.8B", [0.8]), ("LFM2.5-1.2B", [0.8, 1.7]), ("DS-R1-Qwen-1.5B", [0.8, 1.7]),
             ("Qwen3.5-2B", [0.8]), ("Qwen3.5-4B", [0.8]), ("Qwen3.5-35B-A3B", [0.8]), ("DS-R1-Llama-70B", [7.2]),
             ("Qwen3.5-122B-A10B", [4.8]), ("DeepSeek-V3.2", [2.4]), ("claude-haiku-4.5", [12.8]),
             ("gemini-2.5-flash", [2.4])]

# ---------------- (b) top ----------------
RT_HR = [[0, 0, 0, 0.2, 0.2], [0, 0, 0, 0, 0], [0, 0, 0, 0, 0], [0, 0, 0, 0, 0], [0, 0, 0, 0, 0],
         [0, 0, 0, 0, 0], [0, 0, 1.2, 3.6, 7.2], [4.4, 4.4, 4.8, 5.0, 5.6], [0, 0, 0, 0, 0], [0, 0, 0, 0, 0],
         [0, 0, 0, 0, 0], [0, 0.6, 1.2, 1.6, 1.6], [0, 0, 0, 0, 0], [0, 0.6, 0.8, 2.2, 2.2],
         [3.2, 3.2, 4.4, 5.8, 6.4], [0, 0.6, 0.8, 1.2, 1.2], [0, 0, 0, 0, 0], [0, 0, 0, 0, 0],
         [0, 0, 0.4, 0.8, 0.8], [8.0, 8.6, 8.8, 9.0, 9.6], [0, 0, 0, 0, 0], [0, 0, 0, 0, 0],
         [0, 0, 0.4, 0.8, 0.8], [0, 0, 0, 0, 0], [14.4, 15.0, 17.2, 19.6, 20.8], [0, 0.6, 1.2, 1.6, 1.6],
         [3.2, 3.2, 3.6, 4.2, 4.8]]
RT_TG = [[0, 0, 0, 0, 0], [0, 0, 0, 0, 0], [0, 0, 0, 0, 0], [0, 0, 0, 0, 0], [0, 0, 0, 0, 0],
         [0, 0, 0, 0, 0], [0, 0, 0.8, 1.4, 2.4], [0, 0.8, 1.6, 3.2, 4.8], [0, 0, 0, 0, 0], [0, 0, 0, 0, 0],
         [0, 0, 0, 0, 0], [0, 0.2, 0.8, 1.4, 1.6], [0, 0, 0, 0.8, 1.6], [0, 0, 0, 0, 0],
         [0, 1.0, 2.8, 4.6, 6.4], [0, 0, 0.8, 1.6, 3.2], [0, 0, 0, 0, 0], [0, 0, 0, 0, 0],
         [0, 0, 0.2, 0.6, 0.8], [0, 3.4, 4.8, 8.0, 10.4], [0, 0, 0, 0, 0], [0, 0, 0, 0, 0],
         [0, 0, 0.4, 0.8, 1.6], [0, 0, 0, 0, 0], [16.0, 16.0, 16.8, 18.4, 21.6], [0, 0, 0, 0, 0],
         [0, 2.4, 3.2, 4.0, 4.8]]
RT_HR_OUT = [("Qwen3.5-0.8B", [0.8]), ("Gemma-3-4B", [3.2]), ("Ministral-3-14B", [6.4]),
             ("Nemotron3-Nano-30B", [2.4])]
RT_TG_OUT = [("Qwen3.5-0.8B", [0.8, 1.6]), ("LFM2.5-1.2B", [0.8]), ("Ouro-1.4B", [0.8, 1.6]),
             ("DS-R1-Qwen-1.5B", [0.8]), ("Ouro-2.6B", [0.8]), ("Ministral-3-8B", [4.0]),
             ("Ministral-3-14B", [0.8, 1.6, 2.4]), ("Gemma-4-31B", [0.8]), ("Qwen3.5-122B-A10B", [0.8]),
             ("Qwen3-235B", [0.8]), ("Kimi-K2.5", [0.8]), ("claude-haiku-4.5", [0, 8.8]),
             ("gemini-2.5-flash", [0.8, 1.6])]

# ====================== styling / layout ======================
PINK = "#f4aeb5"
MINT = "#bde3cf"
BLUE = "#5a8ac6"
ORANGE = "#d27c55"
WHISK = "#6a6a6a"
OUTC = "#c6c6c6"


def lerp_colors(stops, n):
    rgb = [[int(s.lstrip('#')[i:i + 2], 16) for i in (0, 2, 4)] for s in stops]
    out = []
    for i in range(n):
        t = i / (n - 1) * (len(rgb) - 1)
        k = min(int(t), len(rgb) - 2)
        f = t - k
        c = [round(rgb[k][j] + (rgb[k + 1][j] - rgb[k][j]) * f) for j in range(3)]
        out.append("rgb(%d,%d,%d)" % tuple(c))
    return out


N = len(LANGS)
COL_AGG = lerp_colors(["#203a7a", "#3b496c", "#575d6d", "#707173", "#8a8678", "#a59c74",
                       "#c3b369", "#e1cc55", "#fee22a"], N)
COL_LOW = lerp_colors(["#72de70", "#3cc452", "#12a043", "#006a2c", "#005a25"], N)
COL_MED = lerp_colors(["#6fc0f5", "#3aa2ec", "#1178d6", "#0a5fb4", "#0a3c80"], N)
COL_HIGH = lerp_colors(["#b4aeec", "#8e80e0", "#6a4ccf", "#4f22b0", "#3a0a88"], N)
COL_TOP = lerp_colors(["#ff8420", "#ff6a0a", "#e85200", "#c43f00", "#8a2e05"], N)

LANG_POS = [i if i < 4 else i + 1.3 for i in range(N)]
MODEL_POS = list(range(len(MODELS)))
HR_SEP = 3.65
YR_L = [23.02, -0.72]
YR_R = [26.6, -0.62]

fig = go.Figure()


def sfx(n):
    return "" if n == 1 else str(n)


def setup_axes(n, xpx, ypx, xr, dtick, yr, tickvals, ticktext, labels, xtitle):
    s = sfx(n)
    xa = dict(domain=[xpx[0] / W, xpx[1] / W], anchor="y" + s, range=list(xr), tick0=0, dtick=dtick,
              showline=True, linecolor="black", linewidth=2, ticks="outside", ticklen=5, tickwidth=1.5,
              tickcolor="black", showgrid=True, gridcolor="#e6e6e6", gridwidth=1.2, zeroline=False,
              tickfont=dict(family=FONT, size=18, color="black"), ticklabelstandoff=5,
              title=dict(text=xtitle, font=dict(family=FONT, size=20, color="black"), standoff=10),
              fixedrange=True)
    ya = dict(domain=[1 - ypx[1] / H, 1 - ypx[0] / H], anchor="x" + s, range=list(yr),
              tickmode="array", tickvals=tickvals, ticktext=ticktext, showticklabels=labels,
              showline=True, linecolor="black", linewidth=2, ticks="outside", ticklen=10, tickwidth=1.5,
              tickcolor="black", showgrid=False, zeroline=False, ticklabelstandoff=6,
              tickfont=dict(family=FONT, size=18, color="black"), fixedrange=True)
    fig.update_layout(**{"xaxis" + s: xa, "yaxis" + s: ya})


def px_per_unit(ypx, yr):
    return (ypx[1] - ypx[0]) / (yr[0] - yr[1])


def add_series(n, stats, base_pos, off, width, fill, line_color, line_w, ppu, med_w, black_outline=False):
    s = sfx(n)
    idx = [i for i, st in enumerate(stats) if st is not None]
    pos = [base_pos[i] + off for i in idx]
    col = lambda k: [stats[i][k] for i in idx]
    common = dict(orientation="h", width=width, boxpoints=False, xaxis="x" + s, yaxis="y" + s,
                  showlegend=False, hoverinfo="skip")
    if black_outline:
        # whiskers (grey)
        fig.add_trace(go.Box(y=pos, lowerfence=col(0), q1=col(1), median=col(2), q3=col(3), upperfence=col(4),
                             fillcolor="rgba(0,0,0,0)", line=dict(color=WHISK, width=1.2), whiskerwidth=0.45,
                             **common))
        # boxes with individual colours and black outline
        for j, i in enumerate(idx):
            st = stats[i]
            fig.add_trace(go.Box(y=[pos[j]], lowerfence=[st[1]], q1=[st[1]], median=[st[2]], q3=[st[3]],
                                 upperfence=[st[3]], fillcolor=fill[i], line=dict(color="black", width=line_w),
                                 whiskerwidth=0, **common))
    else:
        fig.add_trace(go.Box(y=pos, lowerfence=col(0), q1=col(1), median=col(2), q3=col(3), upperfence=col(4),
                             fillcolor=fill, line=dict(color=line_color, width=line_w), whiskerwidth=0.45,
                             **common))
    fig.add_trace(go.Scatter(x=col(2), y=pos, mode="markers", xaxis="x" + s, yaxis="y" + s,
                             marker=dict(symbol="line-ns", size=width * ppu, line=dict(color="black", width=med_w)),
                             showlegend=False, hoverinfo="skip"))


def add_outliers(n, outs, names, base_pos, off, size):
    s = sfx(n)
    xs, ys = [], []
    lookup = {nm: i for i, nm in enumerate(names)}
    for nm, vals in outs:
        for v in vals:
            xs.append(v)
            ys.append(base_pos[lookup[nm]] + off)
    if xs:
        fig.add_trace(go.Scatter(x=xs, y=ys, mode="markers", xaxis="x" + s, yaxis="y" + s,
                                 marker=dict(size=size, color=OUTC), showlegend=False, hoverinfo="skip"))


MAIN_OFF, MAIN_W = -0.27, 0.46
COT_OFF, BT_OFF, SUB_W = 0.115, 0.34, 0.23
HR_OFF, TG_OFF, R_W = -0.2, 0.2, 0.36

LEFT_PANELS = [
    # n, xpx, ypx, xrange, dtick, labels, title, bold, xtitle, main, cot, bt, outs, colours
    (1, (72, 442), (82.7, 1697), (-1.63, 35.25), 10, True, "Aggregate", False, "DW-ACC (%)",
     LA_BASE, LA_COT, LA_BT, (LA_BASE_OUT, LA_COT_OUT, LA_BT_OUT), COL_AGG),
    (2, (580, 840.7), (83, 773.7), (-0.7, 105), 25, True, "low", True, "acc. (%)",
     LL_MAIN, LL_COT, LL_BT, (LL_MAIN_OUT, LL_COT_OUT, LL_BT_OUT), COL_LOW),
    (3, (871.7, 1133.3), (83, 773.7), (-1.0, 55.6), 20, False, "medium", True, "acc. (%)",
     LM_MAIN, LM_COT, LM_BT, (LM_MAIN_OUT, LM_COT_OUT, LM_BT_OUT), COL_MED),
    (4, (579.3, 840.7), (1007, 1697), (-1.0, 43.5), 10, True, "high", True, "acc. (%)",
     LH_MAIN, LH_COT, LH_BT, (LH_MAIN_OUT, LH_COT_OUT, LH_BT_OUT), COL_HIGH),
    (5, (871.7, 1133.3), (1007, 1697), (-1.0, 25.4), 10, False, "top", True, "acc. (%)",
     LT_MAIN, LT_COT, LT_BT, (LT_MAIN_OUT, LT_COT_OUT, LT_BT_OUT), COL_TOP),
]
RIGHT_PANELS = [
    (6, (1366.6, 1736.3), (82.8, 1698), (-1.0, 38.3), 10, True, "Aggregate", "DW-ACC (%)",
     RA_HR, RA_TG, (RA_HR_OUT, RA_TG_OUT)),
    (7, (1874, 2136), (83, 773.7), (-1.1, 105), 25, True, "low", "acc. (%)", RL_HR, RL_TG, (RL_HR_OUT, RL_TG_OUT)),
    (8, (2166.7, 2428.3), (83, 773.7), (-0.95, 55.5), 20, False, "medium", "acc. (%)",
     RM_HR, RM_TG, (RM_HR_OUT, RM_TG_OUT)),
    (9, (1874.3, 2136), (1007, 1697), (-1.0, 43.6), 10, True, "high", "acc. (%)",
     RH_HR, RH_TG, (RH_HR_OUT, RH_TG_OUT)),
    (10, (2166, 2428.3), (1007, 1697), (-1.04, 25.3), 10, False, "top", "acc. (%)",
     RT_HR, RT_TG, (RT_HR_OUT, RT_TG_OUT)),
]

annotations = []
shapes = []

for (n, xpx, ypx, xr, dt, labels, title, bold, xt, main, cot, bt, outs, cols) in LEFT_PANELS:
    setup_axes(n, xpx, ypx, xr, dt, YR_L, LANG_POS, LANGS, labels, xt)
    ppu = px_per_unit(ypx, YR_L)
    agg = (n == 1)
    osz = 5 if agg else 4
    add_outliers(n, outs[0], LANGS, LANG_POS, MAIN_OFF, osz)
    add_outliers(n, outs[1], LANGS, LANG_POS, COT_OFF, osz)
    add_outliers(n, outs[2], LANGS, LANG_POS, BT_OFF, osz)
    add_series(n, main, LANG_POS, MAIN_OFF, MAIN_W, cols, "black", 2.0 if agg else 1.5, ppu,
               3.2 if agg else 2.6, black_outline=True)
    add_series(n, cot, LANG_POS, COT_OFF, SUB_W, PINK, "#a8a8a8", 1.1, ppu, 3.0 if agg else 2.4)
    add_series(n, bt, LANG_POS, BT_OFF, SUB_W, MINT, "#a8a8a8", 1.1, ppu, 3.0 if agg else 2.4)
    s = sfx(n)
    shapes.append(dict(type="line", xref="x%s domain" % s, yref="y" + s, x0=0, x1=1, y0=HR_SEP, y1=HR_SEP,
                       line=dict(color="#aaaaaa", width=1.4, dash="dash")))
    annotations.append(dict(text=("<b>%s</b>" % title) if bold else title, xref="paper", yref="paper",
                            x=(xpx[0] + xpx[1]) / 2 / W, y=1 - (ypx[0] - 16) / H, showarrow=False,
                            xanchor="center", yanchor="middle", font=dict(family=FONT, size=22, color="black")))

for (n, xpx, ypx, xr, dt, labels, title, xt, hr, tg, outs) in RIGHT_PANELS:
    setup_axes(n, xpx, ypx, xr, dt, YR_R, MODEL_POS, MODELS, labels, xt)
    ppu = px_per_unit(ypx, YR_R)
    agg = (n == 6)
    osz = 5 if agg else 4
    add_outliers(n, outs[0], MODELS, MODEL_POS, HR_OFF, osz)
    add_outliers(n, outs[1], MODELS, MODEL_POS, TG_OFF, osz)
    add_series(n, hr, MODEL_POS, HR_OFF, R_W, BLUE, "#5c5c5c", 1.2, ppu, 3.2 if agg else 2.6)
    add_series(n, tg, MODEL_POS, TG_OFF, R_W, ORANGE, "#5c5c5c", 1.2, ppu, 3.2 if agg else 2.6)
    annotations.append(dict(text="<b>%s</b>" % title, xref="paper", yref="paper",
                            x=(xpx[0] + xpx[1]) / 2 / W, y=1 - (ypx[0] - 16) / H, showarrow=False,
                            xanchor="center", yanchor="middle", font=dict(family=FONT, size=22, color="black")))

# legends (patch + label)
LEGEND_ITEMS = [
    ("base", "#555555", "black", 2.0, 354, 400, 418),
    ("base+enCoT", PINK, "#9a9a9a", 1.5, 513, 559, 577),
    ("bt", MINT, "#9a9a9a", 1.5, 763, 809, 827),
    ("high-resource (en, de, es, ru)", BLUE, "#444444", 2.0, 1553, 1598, 1616),
    ("target languages", ORANGE, "#444444", 2.0, 1987, 2032, 2051),
]
for label, fillc, linec, lw, x0, x1, xt in LEGEND_ITEMS:
    shapes.append(dict(type="rect", xref="paper", yref="paper", x0=x0 / W, x1=x1 / W,
                       y0=1 - 46 / H, y1=1 - 29 / H, fillcolor=fillc, line=dict(color=linec, width=lw)))
    annotations.append(dict(text=label, xref="paper", yref="paper", x=xt / W, y=1 - 37.5 / H, showarrow=False,
                            xanchor="left", yanchor="middle", font=dict(family=FONT, size=22, color="black")))

# captions
annotations.append(dict(text="(a) Per-language score distributions (across models)", xref="paper", yref="paper",
                        x=602 / W, y=1 - 1772 / H, showarrow=False, xanchor="center", yanchor="middle",
                        font=dict(family=FONT, size=25, color="black")))
annotations.append(dict(text="(b) Per-model score distributions (across languages)", xref="paper", yref="paper",
                        x=1898 / W, y=1 - 1772 / H, showarrow=False, xanchor="center", yanchor="middle",
                        font=dict(family=FONT, size=25, color="black")))

fig.update_layout(width=W, height=H, margin=dict(l=0, r=0, t=0, b=0), paper_bgcolor="white",
                  plot_bgcolor="white", boxmode="overlay", showlegend=False,
                  font=dict(family=FONT, size=18, color="black"),
                  annotations=annotations, shapes=shapes)

fig.write_html("out.html")
